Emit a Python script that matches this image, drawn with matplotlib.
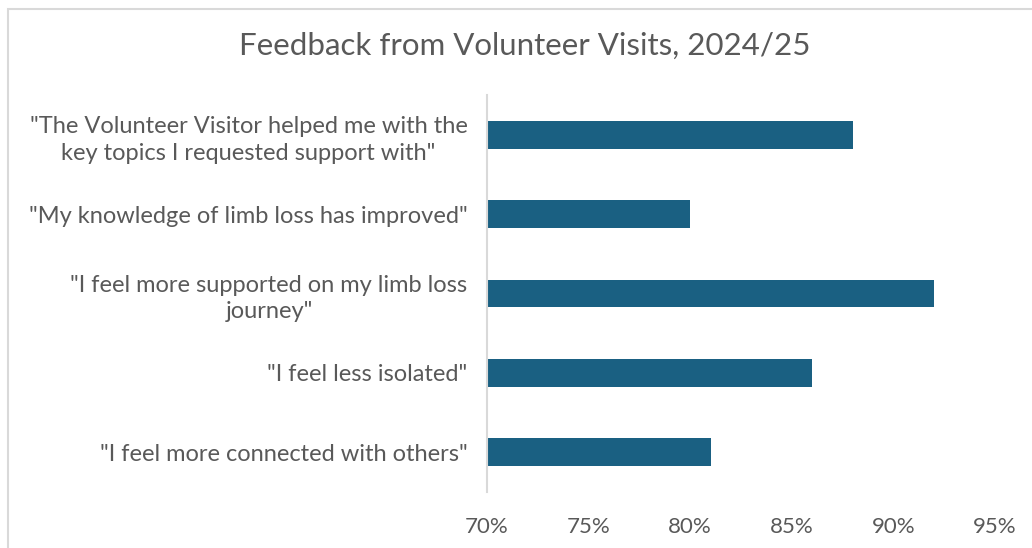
import matplotlib
matplotlib.use("Agg")
import matplotlib.pyplot as plt
from matplotlib.patches import Rectangle
from matplotlib.ticker import FuncFormatter

categories = [
    '"The Volunteer Visitor helped me with the\nkey topics I requested support with"',
    '"My knowledge of limb loss has improved"',
    '"I feel more supported on my limb loss\njourney"',
    '"I feel less isolated"',
    '"I feel more connected with others"',
]
values = [0.88, 0.80, 0.92, 0.86, 0.81]
xticks = [0.70, 0.75, 0.80, 0.85, 0.90, 0.95]
title = "Feedback from Volunteer Visits, 2024/25"

plt.rcParams['font.family'] = ['Lato', 'DejaVu Sans']
text_color = '#595959'
bar_color = '#1A6082'

W, H = 1032, 548
fig = plt.figure(figsize=(W / 100, H / 100), dpi=100)
fig.patch.set_facecolor('white')

# chart border (light grey), right/bottom edges fall outside the image
fig.patches.append(Rectangle((8 / W, -0.05), 1.2, 1 - 9 / H + 0.05,
                             transform=fig.transFigure, fill=False,
                             edgecolor='#D9D9D9', linewidth=1.5))

left, right, top, bottom = 487, 995, 95, 492
ax = fig.add_axes([left / W, 1 - bottom / H, (right - left) / W, (bottom - top) / H])

y = list(range(len(categories)))
ax.barh(y, [v - 0.70 for v in values], left=0.70, height=0.35, color=bar_color)
ax.set_ylim(len(categories) - 0.5, -0.5)
ax.set_xlim(0.70, 0.95)
ax.set_yticks(y)
ax.set_yticklabels(categories, fontsize=17, color=text_color, ha='right',
                   multialignment='center', linespacing=1.35)
ax.set_xticks(xticks)
ax.xaxis.set_major_formatter(FuncFormatter(lambda v, p: f"{round(v * 100)}%"))
for lab in ax.get_xticklabels():
    lab.set_fontsize(16)
    lab.set_color(text_color)
ax.tick_params(axis='both', length=0)
ax.tick_params(axis='y', pad=14)
ax.tick_params(axis='x', pad=18)

for s in ['top', 'right', 'bottom']:
    ax.spines[s].set_visible(False)
ax.spines['left'].set_color('#D9D9D9')
ax.spines['left'].set_linewidth(1.5)

fig.text(525 / W, 1 - 46 / H, title, fontsize=22.5, color=text_color,
         ha='center', va='center')

fig.savefig('out.png', dpi=100, facecolor='white')
